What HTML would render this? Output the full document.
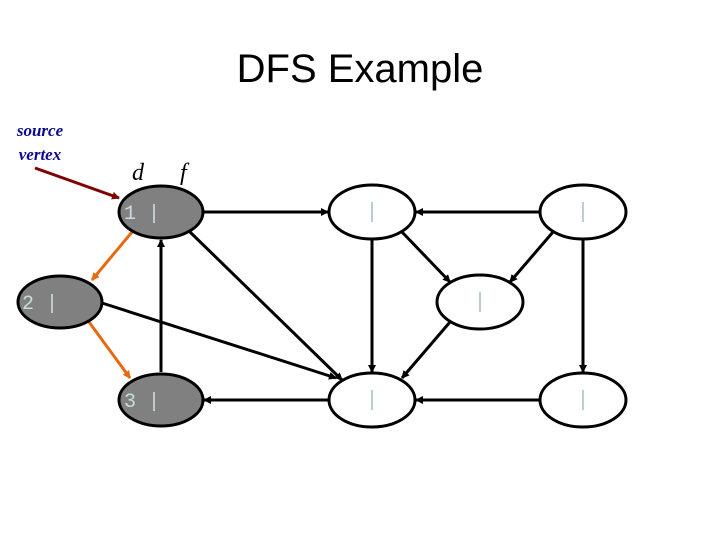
<!DOCTYPE html>
<html><head><style>body{margin:0;background:#fff}</style></head><body>
<svg width="720" height="540" xmlns="http://www.w3.org/2000/svg">
<defs>
<marker id="a" markerWidth="8" markerHeight="8" refX="7" refY="4" orient="auto" markerUnits="userSpaceOnUse"><path d="M0,0 L8,4 L0,8 z" fill="#000"/></marker>
<marker id="o" markerWidth="8" markerHeight="8" refX="7" refY="4" orient="auto" markerUnits="userSpaceOnUse"><path d="M0,0 L8,4 L0,8 z" fill="#e86a10"/></marker>
<marker id="r" markerWidth="8" markerHeight="8" refX="7" refY="4" orient="auto" markerUnits="userSpaceOnUse"><path d="M0,0 L8,4 L0,8 z" fill="#800000"/></marker>
</defs>
<text x="360" y="82" font-family="Liberation Sans" font-size="40" text-anchor="middle">DFS Example</text>
<text x="40" y="136" font-family="Liberation Serif" font-size="17" font-style="italic" font-weight="bold" fill="#0a0a90" text-anchor="middle">source</text>
<text x="40" y="160" font-family="Liberation Serif" font-size="17" font-style="italic" font-weight="bold" fill="#0a0a90" text-anchor="middle">vertex</text>
<text x="132" y="180" font-family="Liberation Serif" font-size="24" font-style="italic">d</text>
<text x="180" y="180" font-family="Liberation Serif" font-size="24" font-style="italic">f</text>
<g stroke="#000" stroke-width="3" fill="none" marker-end="url(#a)">
<line x1="203" y1="212" x2="328" y2="212"/>
<line x1="540" y1="212" x2="416" y2="212"/>
<line x1="402" y1="232" x2="450" y2="282"/>
<line x1="553" y1="232" x2="510" y2="282"/>
<line x1="372" y1="239" x2="372" y2="372"/>
<line x1="450" y1="322" x2="402" y2="378"/>
<line x1="583" y1="239" x2="583" y2="372"/>
<line x1="540" y1="400" x2="416" y2="400"/>
<line x1="329" y1="400" x2="204" y2="400"/>
<line x1="161" y1="372" x2="161" y2="240"/>
<line x1="190" y1="232" x2="342" y2="380"/>
<line x1="102" y1="303" x2="336" y2="378"/>
</g>
<line x1="132" y1="232" x2="92" y2="280" stroke="#e86a10" stroke-width="3" marker-end="url(#o)"/>
<line x1="89" y1="322" x2="130" y2="378" stroke="#e86a10" stroke-width="3" marker-end="url(#o)"/>
<line x1="35" y1="168" x2="119" y2="198" stroke="#800000" stroke-width="3" marker-end="url(#r)"/>
<g stroke="#000" stroke-width="3">
<ellipse cx="161" cy="212" rx="42" ry="26" fill="#808080"/>
<ellipse cx="60" cy="302" rx="42" ry="26" fill="#808080"/>
<ellipse cx="161" cy="400" rx="42" ry="26" fill="#808080"/>
<ellipse cx="372" cy="212" rx="43" ry="27" fill="#fff"/>
<ellipse cx="583" cy="212" rx="43" ry="27" fill="#fff"/>
<ellipse cx="480" cy="302" rx="43" ry="27" fill="#fff"/>
<ellipse cx="372" cy="400" rx="43" ry="27" fill="#fff"/>
<ellipse cx="583" cy="400" rx="43" ry="27" fill="#fff"/>
</g>
<g font-family="Liberation Mono" font-size="20" fill="#c8dce0">
<text x="124" y="219">1 |</text>
<text x="22" y="309">2 |</text>
<text x="124" y="407">3 |</text>
</g>
<g stroke="#b8cfd2" stroke-width="2">
<line x1="372" y1="202" x2="372" y2="222"/>
<line x1="583" y1="202" x2="583" y2="222"/>
<line x1="480" y1="292" x2="480" y2="312"/>
<line x1="372" y1="390" x2="372" y2="410"/>
<line x1="583" y1="390" x2="583" y2="410"/>
</g>
</svg>
</body></html>
